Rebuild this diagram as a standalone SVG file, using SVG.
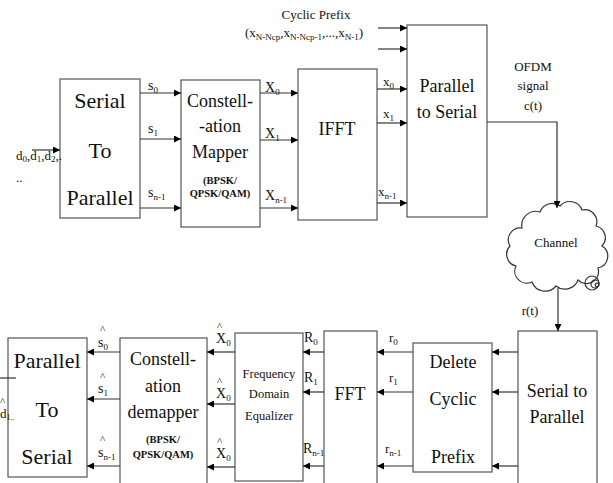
<svg xmlns="http://www.w3.org/2000/svg" width="613" height="483" viewBox="0 0 613 483" font-family="'Liberation Serif', 'Times New Roman', 'DejaVu Serif', serif">
<defs>
<marker id="ah" viewBox="0 0 10 10" refX="10" refY="5" markerWidth="7" markerHeight="7" orient="auto" markerUnits="userSpaceOnUse">
<path d="M0,0 L10,5 L0,10 Z" fill="#000"/>
</marker>
<style>
.box{fill:#fff;stroke:#555;stroke-width:1.2}
.ln{fill:none;stroke:#333;stroke-width:1.2}
.ar{fill:none;stroke:#333;stroke-width:1.2;marker-end:url(#ah)}
text{fill:#111}
.big{font-size:22px;text-anchor:middle}
.med{font-size:18px;text-anchor:middle}
.sm{font-size:10.5px;font-weight:bold;text-anchor:middle}
.lab{font-size:14px}
.lab2{font-size:13px}
.eq{font-size:12.5px;text-anchor:middle}
.ctr{text-anchor:middle}
.hat{font-size:11px}
</style>
</defs>
<rect width="613" height="483" fill="#fff"/>

<g id="serial-to-parallel-tx">
<rect class="box" x="60" y="79" width="80" height="139"/>
<text class="big" x="100" y="108">Serial</text>
<text class="big" x="100" y="158">To</text>
<text class="big" x="100" y="205">Parallel</text>
</g>

<g id="constellation-mapper">
<rect class="box" x="181" y="80" width="79" height="147"/>
<text class="med" x="220" y="107">Constell-</text>
<text class="med" x="220" y="132">-ation</text>
<text class="med" x="220" y="158">Mapper</text>
<text class="sm" x="220" y="184">(BPSK/</text>
<text class="sm" x="220" y="197">QPSK/QAM)</text>
</g>

<g id="ifft">
<rect class="box" x="298" y="69" width="79" height="151"/>
<text class="med" x="337" y="135">IFFT</text>
</g>

<g id="parallel-to-serial-tx">
<rect class="box" x="407" y="25" width="80" height="192"/>
<text class="med" x="447" y="92">Parallel</text>
<text class="med" x="447" y="118">to Serial</text>
</g>

<g id="channel">
<path class="ln" d="M522,228 a14,14 0 0 1 18,-16 a13,13 0 0 1 20,-6 a13,13 0 0 1 22,4 a12,12 0 0 1 14,16 a12,12 0 0 1 6,20 a12,12 0 0 1 -4,22 a12,12 0 0 1 -20,12 a14,14 0 0 1 -22,6 a14,14 0 0 1 -24,-4 a12,12 0 0 1 -16,-16 a12,12 0 0 1 -6,-20 a12,12 0 0 1 12,-18 Z"/>
<circle class="ln" cx="592" cy="283" r="7" fill="#fff"/>
<circle class="ln" cx="595" cy="284" r="4"/>
<circle class="ln" cx="597" cy="285" r="1.8"/>
<text class="lab2 ctr" x="556" y="247">Channel</text>
</g>

<g id="serial-to-parallel-rx">
<rect class="box" x="518" y="331" width="79" height="160"/>
<text class="med" x="557" y="397">Serial to</text>
<text class="med" x="557" y="423">Parallel</text>
</g>

<g id="delete-cyclic-prefix">
<rect class="box" x="413" y="343" width="79" height="129"/>
<text class="med" x="453" y="368">Delete</text>
<text class="med" x="453" y="405">Cyclic</text>
<text class="med" x="453" y="463">Prefix</text>
</g>

<g id="fft">
<rect class="box" x="324" y="331" width="53" height="160"/>
<text class="med" x="350" y="400">FFT</text>
</g>

<g id="frequency-domain-equalizer">
<rect class="box" x="235" y="333" width="68" height="148"/>
<text class="eq" x="269" y="378">Frequency</text>
<text class="eq" x="269" y="398">Domain</text>
<text class="eq" x="269" y="420">Equalizer</text>
</g>

<g id="constellation-demapper">
<rect class="box" x="120" y="338" width="87" height="160"/>
<text class="med" x="163" y="365">Constell-</text>
<text class="med" x="163" y="392">ation</text>
<text class="med" x="163" y="418">demapper</text>
<text class="sm" x="163" y="443">(BPSK/</text>
<text class="sm" x="163" y="458">QPSK/QAM)</text>
</g>

<g id="parallel-to-serial-rx">
<rect class="box" x="8" y="338" width="79" height="139"/>
<text class="big" x="47" y="368">Parallel</text>
<text class="big" x="47" y="417">To</text>
<text class="big" x="47" y="464">Serial</text>
</g>

<g id="connectors">
<line class="ar" x1="32" y1="150" x2="60" y2="150"/>
<line class="ar" x1="140" y1="93" x2="181" y2="93"/>
<line class="ar" x1="140" y1="139" x2="181" y2="139"/>
<line class="ar" x1="140" y1="208" x2="181" y2="208"/>
<line class="ar" x1="260" y1="93" x2="298" y2="93"/>
<line class="ar" x1="260" y1="140" x2="298" y2="140"/>
<line class="ar" x1="260" y1="208" x2="298" y2="208"/>
<line class="ar" x1="377" y1="89" x2="407" y2="89"/>
<line class="ar" x1="377" y1="123" x2="407" y2="123"/>
<line class="ar" x1="377" y1="203" x2="407" y2="203"/>
<line class="ar" x1="378" y1="28" x2="407" y2="28"/>
<line class="ar" x1="378" y1="49" x2="407" y2="49"/>
<path class="ar" d="M487,122 H557 V208"/>
<line class="ar" x1="558" y1="288" x2="558" y2="331"/>
<line class="ar" x1="518" y1="352" x2="492" y2="352"/>
<line class="ar" x1="518" y1="392" x2="492" y2="392"/>
<line class="ar" x1="518" y1="466" x2="492" y2="466"/>
<line class="ar" x1="413" y1="352" x2="377" y2="352"/>
<line class="ar" x1="413" y1="392" x2="377" y2="392"/>
<line class="ar" x1="413" y1="466" x2="377" y2="466"/>
<line class="ar" x1="324" y1="352" x2="303" y2="352"/>
<line class="ar" x1="324" y1="392" x2="303" y2="392"/>
<line class="ar" x1="324" y1="466" x2="303" y2="466"/>
<line class="ar" x1="235" y1="352" x2="207" y2="352"/>
<line class="ar" x1="235" y1="404" x2="207" y2="404"/>
<line class="ar" x1="235" y1="467" x2="207" y2="467"/>
<line class="ar" x1="120" y1="352" x2="87" y2="352"/>
<line class="ar" x1="120" y1="399" x2="87" y2="399"/>
<line class="ar" x1="120" y1="466" x2="87" y2="466"/>
<line class="ln" x1="0" y1="378" x2="16" y2="378"/>
</g>

<g id="labels">
<text class="lab2" x="16" y="160">d<tspan font-size="9" dy="2">0</tspan><tspan dy="-2">,d</tspan><tspan font-size="9" dy="2">1</tspan><tspan dy="-2">,d</tspan><tspan font-size="9" dy="2">2</tspan><tspan dy="-2">,.</tspan></text>
<text class="lab2" x="16" y="182">..</text>

<text class="lab" x="148" y="90">s<tspan font-size="9" dy="3">0</tspan></text>
<text class="lab" x="148" y="133">s<tspan font-size="9" dy="3">1</tspan></text>
<text class="lab" x="148" y="197">s<tspan font-size="9" dy="3">n-1</tspan></text>

<text class="lab" x="265" y="92">X<tspan font-size="9" dy="3">0</tspan></text>
<text class="lab" x="265" y="138">X<tspan font-size="9" dy="3">1</tspan></text>
<text class="lab" x="265" y="200">X<tspan font-size="9" dy="3">n-1</tspan></text>

<text class="lab2" x="383" y="86">x<tspan font-size="9" dy="3">0</tspan></text>
<text class="lab2" x="383" y="118">x<tspan font-size="9" dy="3">1</tspan></text>
<text class="lab2" x="378" y="196">x<tspan font-size="9" dy="3">n-1</tspan></text>

<text class="lab2 ctr" x="316" y="19">Cyclic Prefix</text>
<text class="lab2" x="245" y="37">(x<tspan font-size="9" dy="3">N-Ncp</tspan><tspan dy="-3">,x</tspan><tspan font-size="9" dy="3">N-Ncp-1</tspan><tspan dy="-3">,...,x</tspan><tspan font-size="9" dy="3">N-1</tspan><tspan dy="-3">)</tspan></text>

<text class="lab2 ctr" x="533" y="71">OFDM</text>
<text class="lab2 ctr" x="533" y="90">signal</text>
<text class="lab2 ctr" x="533" y="110">c(t)</text>

<text class="lab2 ctr" x="530" y="315">r(t)</text>

<text class="lab2" x="389" y="342">r<tspan font-size="9" dy="3">0</tspan></text>
<text class="lab2" x="389" y="382">r<tspan font-size="9" dy="3">1</tspan></text>
<text class="lab2" x="385" y="453">r<tspan font-size="9" dy="3">n-1</tspan></text>

<text class="lab" x="304" y="342">R<tspan font-size="9" dy="3">0</tspan></text>
<text class="lab" x="304" y="382">R<tspan font-size="9" dy="3">1</tspan></text>
<text class="lab" x="303" y="453">R<tspan font-size="9" dy="3">n-1</tspan></text>

<text class="hat" x="217" y="330">^</text>
<text class="lab" x="216" y="343">X<tspan font-size="9" dy="3">0</tspan></text>
<text class="hat" x="217" y="385">^</text>
<text class="lab" x="216" y="398">X<tspan font-size="9" dy="3">0</tspan></text>
<text class="hat" x="217" y="445">^</text>
<text class="lab" x="216" y="458">X<tspan font-size="9" dy="3">0</tspan></text>

<text class="hat" x="100" y="333">^</text>
<text class="lab" x="98" y="347">s<tspan font-size="9" dy="3">0</tspan></text>
<text class="hat" x="100" y="380">^</text>
<text class="lab" x="98" y="393">s<tspan font-size="9" dy="3">1</tspan></text>
<text class="hat" x="100" y="443">^</text>
<text class="lab" x="98" y="457">s<tspan font-size="9" dy="3">n-1</tspan></text>

<text class="hat" x="0" y="405">^</text>
<text class="lab2" x="0" y="418">d<tspan font-size="8" dy="2">1..</tspan></text>
</g>
</svg>
